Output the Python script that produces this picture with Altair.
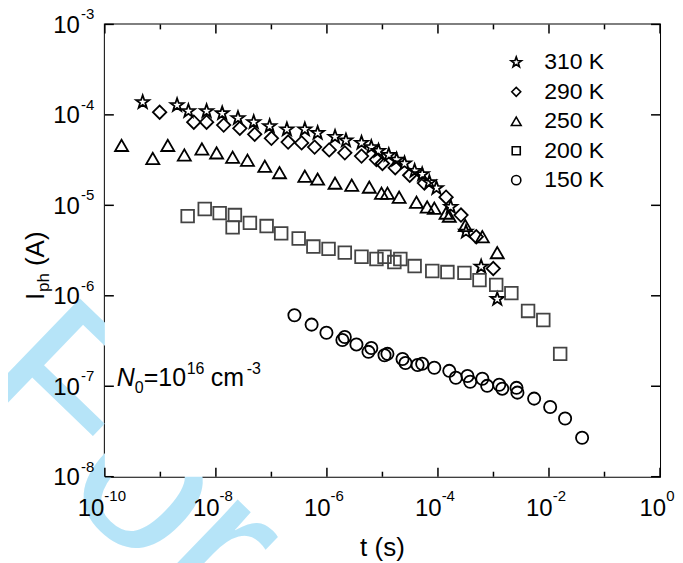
import altair as alt
import pandas as pd

# ---------------- data ----------------
labels = ["310 K", "290 K", "250 K", "200 K", "150 K"]

t310 = [4.8e-10, 2.0e-9, 3.2e-9, 6.8e-9, 1.3e-8, 2.5e-8, 4.8e-8, 9.3e-8, 1.9e-7, 4.0e-7,
        6.8e-7, 1.4e-6, 2.2e-6, 4.2e-6, 6.3e-6, 8.5e-6, 1.3e-5, 1.8e-5, 2.5e-5, 3.8e-5,
        5.2e-5, 7.0e-5, 9.4e-5, 1.7e-4, 3.2e-4, 6.0e-4, 1.17e-3]
i310 = [1.38e-4, 1.28e-4, 1.10e-4, 1.10e-4, 1.04e-4, 9.2e-5, 8.3e-5, 7.5e-5, 6.9e-5, 6.9e-5,
        6.3e-5, 5.7e-5, 5.2e-5, 4.9e-5, 4.4e-5, 4.0e-5, 3.6e-5, 3.2e-5, 2.9e-5, 2.4e-5,
        2.2e-5, 1.8e-5, 1.55e-5, 9.6e-6, 5.1e-6, 2.1e-6, 9.2e-7]

t290 = [9.7e-10, 4.0e-9, 6.8e-9, 1.38e-8, 2.7e-8, 5.0e-8, 1.0e-7, 2.0e-7, 3.5e-7, 6.0e-7,
        1.1e-6, 2.1e-6, 4.2e-6, 7.8e-6, 1.0e-5, 1.7e-5, 3.1e-5, 5.7e-5, 1.4e-4, 2.6e-4,
        4.9e-4, 9.9e-4]
i290 = [1.07e-4, 8.3e-5, 8.3e-5, 7.7e-5, 7.1e-5, 6.1e-5, 5.5e-5, 5.0e-5, 4.9e-5, 4.4e-5,
        4.1e-5, 3.8e-5, 3.5e-5, 3.2e-5, 2.9e-5, 2.6e-5, 2.15e-5, 1.76e-5, 1.23e-5, 7.8e-6,
        4.5e-6, 2.0e-6]

t250 = [2.0e-10, 7.3e-10, 1.36e-9, 2.7e-9, 5.6e-9, 1.03e-8, 2.0e-8, 3.7e-8, 7.6e-8, 1.4e-7,
        4.0e-7, 6.8e-7, 1.4e-6, 2.8e-6, 5.8e-6, 9.6e-6, 1.23e-5, 2.0e-5, 4.1e-5, 6.4e-5,
        8.6e-5, 1.4e-4, 1.6e-4, 3.1e-4, 6.3e-4, 1.17e-3]
i250 = [4.6e-5, 3.3e-5, 4.6e-5, 3.6e-5, 4.2e-5, 3.8e-5, 3.4e-5, 3.15e-5, 2.7e-5, 2.3e-5,
        2.1e-5, 1.95e-5, 1.76e-5, 1.67e-5, 1.59e-5, 1.36e-5, 1.36e-5, 1.23e-5, 1.08e-5, 9.6e-6,
        9.3e-6, 8.2e-6, 7.6e-6, 6.0e-6, 4.5e-6, 3.0e-6]

t200 = [3.1e-9, 6.3e-9, 1.17e-8, 2.2e-8, 2.0e-8, 4.1e-8, 8.2e-8, 1.5e-7, 3.1e-7, 5.7e-7,
        1.07e-6, 2.1e-6, 4.2e-6, 7.8e-6, 1.09e-5, 1.64e-5, 2.1e-5, 3.8e-5, 7.9e-5, 1.48e-4,
        3.0e-4, 5.6e-4, 1.12e-3, 2.1e-3, 4.2e-3, 7.9e-3, 1.59e-2]
i200 = [7.6e-6, 9.1e-6, 8.2e-6, 7.8e-6, 5.7e-6, 6.4e-6, 5.9e-6, 4.9e-6, 4.3e-6, 3.5e-6,
        3.3e-6, 3.0e-6, 2.7e-6, 2.55e-6, 2.7e-6, 2.36e-6, 2.55e-6, 2.13e-6, 1.88e-6, 1.83e-6,
        1.79e-6, 1.49e-6, 1.32e-6, 1.07e-6, 6.8e-7, 5.4e-7, 2.28e-7]

t150 = [2.6e-7, 5.3e-7, 9.8e-7, 1.9e-6, 2.1e-6, 3.4e-6, 5.6e-6, 6.3e-6, 1.09e-5, 1.23e-5,
        2.3e-5, 2.6e-5, 4.3e-5, 5.2e-5, 8.6e-5, 1.6e-4, 2.1e-4, 3.4e-4, 3.8e-4, 6.3e-4,
        7.7e-4, 1.27e-3, 1.44e-3, 2.6e-3, 2.7e-3, 5.4e-3, 1.05e-2, 1.95e-2, 3.95e-2]
i150 = [6.1e-7, 4.8e-7, 3.9e-7, 3.25e-7, 3.5e-7, 2.9e-7, 2.4e-7, 2.65e-7, 2.2e-7, 2.28e-7,
        2.0e-7, 1.81e-7, 1.72e-7, 1.77e-7, 1.6e-7, 1.48e-7, 1.24e-7, 1.30e-7, 1.12e-7, 1.21e-7,
        1.01e-7, 1.04e-7, 9.4e-8, 9.6e-8, 8.5e-8, 7.3e-8, 5.9e-8, 4.4e-8, 2.7e-8]

x_major = [1e-10, 1e-8, 1e-6, 1e-4, 1e-2, 1.0]
x_major_exp = ["-10", "-8", "-6", "-4", "-2", "0"]
x_minor = [1e-9, 1e-7, 1e-5, 1e-3, 1e-1]
y_major = [1e-8, 1e-7, 1e-6, 1e-5, 1e-4, 1e-3]
y_major_exp = ["-8", "-7", "-6", "-5", "-4", "-3"]

# ---------------- build table ----------------
rows = []
for lab, ts, vs in zip(labels, [t310, t290, t250, t200, t150], [i310, i290, i250, i200, i150]):
    for t, v in zip(ts, vs):
        rows.append({"series": lab, "t": t, "I": v})
df = pd.DataFrame(rows)

FONT = "Liberation Sans"
W, H = 556, 453
STAR = ("M0,-1L0.235,-0.324L0.951,-0.309L0.38,0.124L0.588,0.809L0,0.4"
        "L-0.588,0.809L-0.38,0.124L-0.951,-0.309L-0.235,-0.324Z")
SHAPES = [STAR, "diamond", "triangle-up", "square", "circle"]
COLORS = ["#000000", "#000000", "#000000", "#444444", "#000000"]
SIZES = [190, 150, 170, 115, 125]
LEG_SIZES = [120, 80, 95, 65, 85]

xs = alt.Scale(type="log", domain=[1e-10, 1], nice=False)
ys = alt.Scale(type="log", domain=[1e-8, 1e-3], nice=False)

points = alt.Chart(df).mark_point(filled=False, strokeWidth=1.8, opacity=1).encode(
    x=alt.X("t:Q", scale=xs, axis=None),
    y=alt.Y("I:Q", scale=ys, axis=None),
    shape=alt.Shape("series:N", scale=alt.Scale(domain=labels, range=SHAPES), legend=None),
    color=alt.Color("series:N", scale=alt.Scale(domain=labels, range=COLORS), legend=None),
    size=alt.Size("series:O", scale=alt.Scale(domain=labels, range=SIZES), legend=None),
)

one = pd.DataFrame({"a": [0]})
layers = []

# watermark (behind the figure; only visible outside the plot frame)
layers.append(alt.Chart(one).mark_text(
    text="For Peer Review", font=FONT, fontSize=220, color="#b6e4f8",
    angle=44, align="left", baseline="alphabetic"
).encode(x=alt.value(-143), y=alt.value(371)))
layers.append(alt.Chart(one).mark_rect(color="white").encode(
    x=alt.value(0), x2=alt.value(W), y=alt.value(0), y2=alt.value(H)))

# ticks (inside)
xt_major = pd.DataFrame({"v": x_major})
xt_minor = pd.DataFrame({"v": x_minor})
yt_major = pd.DataFrame({"v": y_major})
for d, ln in [(xt_major, 9), (xt_minor, 5)]:
    layers.append(alt.Chart(d).mark_rule(color="black", strokeWidth=1.5).encode(
        x=alt.X("v:Q", scale=xs, axis=None), y=alt.value(H), y2=alt.value(H - ln)))
    layers.append(alt.Chart(d).mark_rule(color="black", strokeWidth=1.5).encode(
        x=alt.X("v:Q", scale=xs, axis=None), y=alt.value(0), y2=alt.value(ln)))
layers.append(alt.Chart(yt_major).mark_rule(color="black", strokeWidth=1.5).encode(
    y=alt.Y("v:Q", scale=ys, axis=None), x=alt.value(0), x2=alt.value(9)))
layers.append(alt.Chart(yt_major).mark_rule(color="black", strokeWidth=1.5).encode(
    y=alt.Y("v:Q", scale=ys, axis=None), x=alt.value(W - 9), x2=alt.value(W)))

# tick labels: x  ("10" + raised exponent)
BASE_W = 1.112 * 24
def exp_w(e, fs=15):
    return sum(0.333 if ch == "-" else 0.556 for ch in e) * fs

for v, e in zip(x_major, x_major_exp):
    d = pd.DataFrame({"v": [v], "e": [e]})
    off = (BASE_W - exp_w(e)) / 2 - 3
    layers.append(alt.Chart(d).mark_text(text="10", font=FONT, fontSize=24, align="right",
                                         baseline="alphabetic", dx=off, color="black").encode(
        x=alt.X("v:Q", scale=xs, axis=None), y=alt.value(H + 39)))
    layers.append(alt.Chart(d).mark_text(font=FONT, fontSize=15, align="left",
                                         baseline="alphabetic", dx=off, color="black").encode(
        x=alt.X("v:Q", scale=xs, axis=None), y=alt.value(H + 24), text="e:N"))

# tick labels: y
yd = pd.DataFrame({"v": y_major, "e": y_major_exp})
layers.append(alt.Chart(yd).mark_text(text="10", font=FONT, fontSize=24, align="right",
                                      baseline="alphabetic", dy=8.5, color="black").encode(
    y=alt.Y("v:Q", scale=ys, axis=None), x=alt.value(-25)))
layers.append(alt.Chart(yd).mark_text(font=FONT, fontSize=15, align="left",
                                      baseline="alphabetic", dy=-5, color="black").encode(
    y=alt.Y("v:Q", scale=ys, axis=None), x=alt.value(-24), text="e:N"))

def txt(s, x, y, fs, angle=0, style="normal", align="left", baseline="alphabetic"):
    return alt.Chart(one).mark_text(text=s, font=FONT, fontSize=fs, angle=angle,
                                    fontStyle=style, align=align, baseline=baseline,
                                    color="black").encode(x=alt.value(x), y=alt.value(y))

# axis titles
layers.append(txt("t (s)", W / 2, H + 79, 26, align="center"))
layers.append(txt("I", -61, 276, 26, angle=270))
layers.append(txt("ph", -56, 268, 17, angle=270))
layers.append(txt("(A)", -61, 242, 26, angle=270))

# annotation N0 = 10^16 cm^-3
layers.append(txt("N", 12, 362, 25, style="italic"))
layers.append(txt("0", 30, 369, 16))
layers.append(txt("=10", 39, 362, 25))
layers.append(txt("16", 82, 350, 16))
layers.append(txt("cm", 106, 362, 25))
layers.append(txt("-3", 142, 350, 16))

# legend (manual, top right inside the frame)
LEG_X, LEG_Y0, LEG_DY = 412, 38, 29.5
for k, lab in enumerate(labels):
    yk = LEG_Y0 + k * LEG_DY
    layers.append(alt.Chart(one).mark_point(filled=False, strokeWidth=1.6, opacity=1).encode(
        x=alt.value(LEG_X), y=alt.value(yk), shape=alt.value(SHAPES[k]),
        size=alt.value(LEG_SIZES[k]), color=alt.value("black")))
    layers.append(txt(lab, LEG_X + 28, yk, 23, baseline="middle"))

layers.append(points)

chart = alt.layer(*layers).properties(
    width=W, height=H,
    padding={"left": 97, "top": 16, "right": 15, "bottom": 86},
    autosize=alt.AutoSizeParams(type="none"),
).configure_view(stroke="black", strokeWidth=2)

chart.save("out.html", embed_options={"renderer": "svg", "actions": False})
